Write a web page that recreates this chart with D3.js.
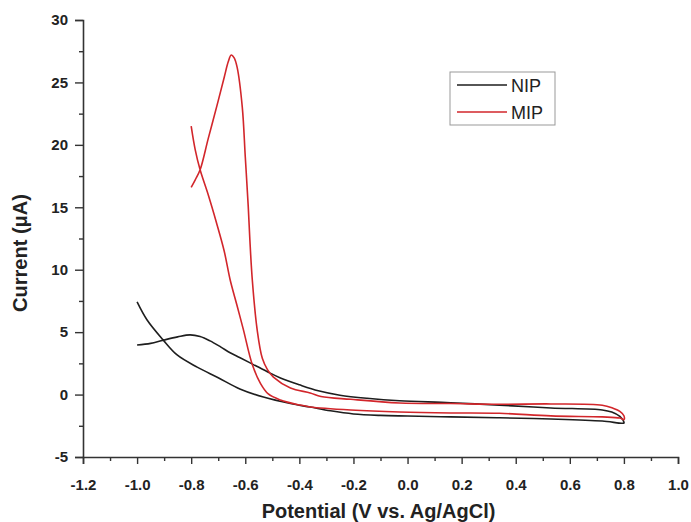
<!DOCTYPE html>
<html>
<head>
<meta charset="utf-8">
<script src="https://cdn.jsdelivr.net/npm/d3@7"></script>
<style>
  html, body { margin: 0; padding: 0; background: #fff; }
  svg { display: block; font-family: Arial, "Liberation Sans", Helvetica, sans-serif; }
</style>
</head>
<body>
<svg id="chart" width="691" height="522"></svg>
<script>
// Cyclic voltammograms: non-imprinted (NIP) and molecularly imprinted (MIP) polymer
const nipPotential = [-1.0, -0.95, -0.904, -0.85, -0.804, -0.767, -0.73, -0.69, -0.656, -0.619, -0.57, -0.52, -0.47,
  -0.40, -0.33, -0.25, -0.15, -0.03, 0.16, 0.34, 0.53, 0.72, 0.755, 0.785, 0.8,
  0.8, 0.72, 0.53, 0.34, 0.16, 0.0, -0.1, -0.2, -0.285, -0.36, -0.433, -0.533, -0.62, -0.7, -0.778,
  -0.852, -0.904, -0.963, -1.0];
const nipCurrent = [3.97, 4.1, 4.35, 4.62, 4.78, 4.65, 4.3, 3.8, 3.35, 2.95, 2.4, 1.85, 1.33,
  0.78, 0.3, -0.05, -0.3, -0.5, -0.65, -0.85, -1.07, -1.23, -1.4, -1.75, -2.2,
  -2.28, -2.12, -1.96, -1.86, -1.79, -1.72, -1.67, -1.55, -1.3, -1.0, -0.72, -0.2, 0.45, 1.35, 2.2,
  3.17, 4.38, 5.97, 7.42];

const mipPotential = [-0.8, -0.785, -0.767, -0.737, -0.707, -0.678, -0.656, -0.63, -0.607, -0.574, -0.544, -0.515,
  -0.47, -0.40, -0.36, -0.21, -0.03, 0.16, 0.34, 0.53, 0.72, 0.785, 0.8,
  0.8, 0.785, 0.76, 0.72, 0.53, 0.34, 0.16, -0.03, -0.21, -0.32, -0.36, -0.433, -0.496, -0.518, -0.537,
  -0.556, -0.574, -0.583, -0.589, -0.6, -0.611, -0.63, -0.641, -0.652, -0.663, -0.678, -0.704,
  -0.737, -0.767, -0.785, -0.8];
const mipCurrent = [21.5, 19.6, 18.0, 16.0, 13.8, 11.5, 9.2, 7.1, 5.2, 2.4, 0.9, 0.05,
  -0.43, -0.83, -0.99, -1.23, -1.39, -1.47, -1.5, -1.71, -1.79, -1.88, -2.0,
  -1.7, -1.35, -1.1, -0.85, -0.75, -0.78, -0.72, -0.67, -0.38, -0.15, 0.13, 0.53, 1.4, 2.0, 2.9,
  5.18, 9.18, 12.4, 15.05, 19.05, 23.0, 26.2, 26.97, 27.2, 26.65, 25.4, 23.2,
  20.5, 18.0, 17.2, 16.6];

const xTicks = [-1.2, -1.0, -0.8, -0.6, -0.4, -0.2, 0.0, 0.2, 0.4, 0.6, 0.8, 1.0];
const yTicks = [-5, 0, 5, 10, 15, 20, 25, 30];
const xMinorTicks = [-1.1, -0.9, -0.7, -0.5, -0.3, -0.1, 0.1, 0.3, 0.5, 0.7, 0.9];
const yMinorTicks = [-2.5, 2.5, 7.5, 12.5, 17.5, 22.5, 27.5];

const seriesNames = ["NIP", "MIP"];
const seriesColors = ["#1e1e1e", "#d2262b"];

const svg = d3.select("#chart");
const margin = { left: 83, right: 13, top: 20, bottom: 65 };
const W = 691, H = 522;

const x = d3.scaleLinear().domain([-1.2, 1.0]).range([margin.left, W - margin.right]);
const y = d3.scaleLinear().domain([-5, 30]).range([H - margin.bottom, margin.top]);

const axisColor = "#333";

// x axis
const gx = svg.append("g").attr("transform", `translate(0,${y(-5)})`);
gx.call(d3.axisBottom(x).tickValues(xTicks).tickSize(7).tickPadding(15)
  .tickFormat(d => d3.format(".1f")(d).replace("−", "-")));
gx.append("g").call(d3.axisBottom(x).tickValues(xMinorTicks).tickSize(4).tickFormat(""))
  .select(".domain").remove();

// y axis
const gy = svg.append("g").attr("transform", `translate(${x(-1.2)},0)`);
gy.call(d3.axisLeft(y).tickValues(yTicks).tickSize(8).tickPadding(7)
  .tickFormat(d => String(d)));
gy.append("g").call(d3.axisLeft(y).tickValues(yMinorTicks).tickSize(4).tickFormat(""))
  .select(".domain").remove();

svg.selectAll(".domain").attr("stroke", axisColor).attr("stroke-width", 1.6);
svg.selectAll(".tick line").attr("stroke", axisColor).attr("stroke-width", 1.4);
svg.selectAll(".tick text")
  .attr("fill", "#222").attr("font-size", 15).attr("font-weight", "bold")
  .attr("font-family", "Arial, 'Liberation Sans', sans-serif");

// axis titles
svg.append("text")
  .attr("x", (x(-1.2) + x(1.0)) / 2 - 2).attr("y", 518)
  .attr("text-anchor", "middle").attr("font-size", 20).attr("font-weight", "bold")
  .attr("fill", "#222").text("Potential (V vs. Ag/AgCl)");

svg.append("text")
  .attr("transform", "translate(27,253) rotate(-90)")
  .attr("text-anchor", "middle").attr("font-size", 20).attr("font-weight", "bold")
  .attr("fill", "#222").text("Current (μA)");

// curves
const line = d3.line()
  .x(d => x(d[0])).y(d => y(d[1]))
  .curve(d3.curveCatmullRom.alpha(0.5));

const series = [
  d3.zip(nipPotential, nipCurrent),
  d3.zip(mipPotential, mipCurrent)
];

svg.append("g").selectAll("path")
  .data(series)
  .join("path")
  .attr("d", line)
  .attr("fill", "none")
  .attr("stroke", (d, i) => seriesColors[i])
  .attr("stroke-width", 1.6)
  .attr("stroke-linejoin", "round");

// legend
const lg = svg.append("g").attr("transform", "translate(450,72)");
lg.append("rect").attr("width", 105).attr("height", 53)
  .attr("fill", "#fff").attr("stroke", "#999").attr("stroke-width", 1);
seriesNames.forEach((name, i) => {
  const cy = 13 + i * 27;
  lg.append("line").attr("x1", 7).attr("x2", 57).attr("y1", cy).attr("y2", cy)
    .attr("stroke", seriesColors[i]).attr("stroke-width", 1.6);
  lg.append("text").attr("x", 61).attr("y", cy + 7)
    .attr("font-size", 18).attr("fill", "#222").text(name);
});
</script>
</body>
</html>
